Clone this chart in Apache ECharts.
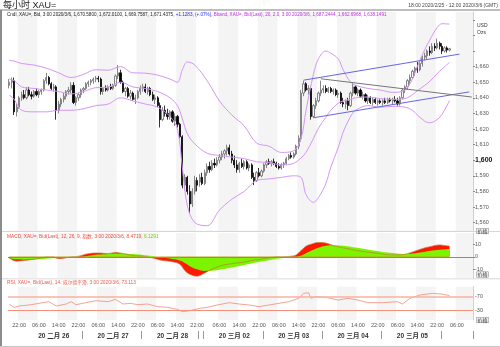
<!DOCTYPE html>
<html><head><meta charset="utf-8">
<script src="https://cdn.jsdelivr.net/npm/echarts@6/dist/echarts.min.js"></script>
<style>html,body{margin:0;padding:0;background:#fff}#c{width:500px;height:347px}</style>
</head><body><div id="c"></div>
<script>
// ---------- categories (hourly bars, GMT) ----------
const sessions = [["2020/2/25",18,23],["2020/2/26",0,23],["2020/2/27",0,23],["2020/2/28",0,22],["2020/3/1",22,23],["2020/3/2",0,23],["2020/3/3",0,23],["2020/3/4",0,23],["2020/3/5",0,23],["2020/3/6",0,12]];
const categories = [];
sessions.forEach(([d,a,b]) => { for (let h=a; h<=b; h++) categories.push(d + ' ' + (h<10?'0':'') + h + ':00'); });

// ---------- candles [open, close, low, high] ----------
const candles = [
[1648,1650,1646,1652],[1650,1651,1646,1653],[1651,1631,1629,1653],[1631,1634,1628,1636],[1634,1640,1633,1641],
[1640,1642,1638,1644],[1642,1640,1639,1645],[1640,1645,1639,1647],[1645,1642,1641,1647],[1642,1641,1639,1644],
[1641,1644,1640,1645],[1644,1642,1641,1646],[1642,1644,1640,1645],[1644,1645,1642,1646],[1645,1651,1644,1652],
[1651,1653,1649,1656],[1653,1649,1648,1654],[1649,1646,1645,1650],[1646,1647,1644,1649],[1647,1632,1626,1648],
[1632,1636,1630,1638],[1636,1639,1634,1640],[1639,1641,1637,1643],[1641,1644,1639,1645],[1644,1645,1642,1647],
[1645,1648,1643,1650],[1648,1637,1636,1650],[1637,1640,1635,1641],[1640,1642,1638,1643],[1642,1645,1640,1646],
[1645,1646,1643,1647],[1646,1649,1645,1650],[1649,1650,1647,1651],[1650,1651,1648,1652],[1651,1652,1649,1653],
[1652,1652.5,1650,1654],[1652.5,1652,1650,1654],[1652,1644,1642,1653],[1644,1646,1642,1647],[1646,1645,1644,1648],
[1645,1647,1644,1648],[1647,1646,1645,1649],[1646,1648,1645,1649],[1648,1654,1647,1655],[1654,1656,1652,1661],
[1656,1650,1649,1658],[1650,1644,1643,1651],[1644,1646,1641,1647],[1646,1641,1640,1647],[1641,1643,1639,1645],
[1643,1639,1638,1644],[1639,1640,1636,1642],[1640,1644,1639,1645],[1644,1646,1642,1648],[1646,1647,1644,1649],
[1647,1644,1643,1649],[1644,1646,1642,1647],[1646,1642,1641,1647],[1642,1639,1638,1644],[1639,1640,1636,1642],
[1640,1635,1634,1641],[1635,1626,1621,1637],[1626,1632,1625,1634],[1632,1630,1628,1635],[1630,1628,1626,1633],
[1628,1631,1626,1632],[1631,1625,1624,1632],[1625,1628,1622,1630],[1628,1623,1621,1629],[1623,1615,1614,1624],
[1615,1584,1582,1616],[1584,1589,1581,1591],[1589,1580,1578,1590],[1580,1572,1566,1584],[1572,1580,1570,1582],
[1580,1587,1578,1590],[1587,1584,1580,1589],[1586,1589,1583,1591],[1589,1585,1584,1592],[1585,1592,1584,1594],
[1592,1596,1590,1598],[1596,1594,1592,1599],[1594,1598,1593,1600],[1598,1597,1595,1601],[1597,1600,1596,1602],
[1600,1602,1598,1604],[1602,1604,1600,1606],[1604,1606,1601,1607],[1606,1608,1603,1610],[1608,1604,1603,1610],
[1604,1600,1598,1606],[1600,1597,1595,1603],[1597,1594,1592,1600],[1594,1598,1592,1599],[1598,1596,1595,1601],
[1596,1599,1594,1600],[1599,1595,1594,1600],[1595,1597,1593,1598],[1597,1589,1588,1598],[1589,1587,1584,1592],
[1587,1592,1586,1593],[1592,1590,1589,1595],[1590,1593,1589,1594],[1593,1597,1592,1598],[1597,1599,1595,1600],
[1599,1598,1597,1601],[1598,1599,1596,1600],[1599,1598,1597,1601],[1598,1596,1595,1599],[1596,1595,1594,1598],
[1595,1597,1594,1598],[1597,1598,1595,1599],[1598,1601,1597,1602],[1601,1603,1600,1604],[1603,1602,1601,1605],
[1602,1604,1601,1605],[1604,1609,1603,1610],[1609,1614,1607,1616],[1614,1643,1612,1645],[1643,1649,1641,1651],
[1649,1645,1644,1650],[1645,1646,1642,1648],[1646,1628,1626,1647],[1628,1635,1627,1636],[1635,1638,1633,1640],
[1638,1643,1637,1644],[1643,1645,1641,1651],[1645,1646,1643,1648],[1646,1644,1643,1648],[1644,1646,1643,1647],
[1646,1644,1643,1647],[1644,1645,1642,1646],[1645,1642,1641,1646],[1642,1643,1640,1645],[1643,1637,1636,1644],
[1637,1636,1634,1640],[1636,1638,1633,1639],[1638,1635,1632,1640],[1635,1643,1634,1644],[1643,1647,1641,1650],
[1647,1643,1642,1648],[1643,1645,1641,1646],[1645,1641,1640,1646],[1641,1642,1639,1644],[1642,1638,1637,1643],
[1638,1640,1636,1642],[1640,1637,1636,1641],[1637,1639,1635,1640],[1639,1637,1636,1640],[1637,1638,1635,1639],
[1638,1637,1636,1639],[1637,1638,1635,1639],[1638,1637,1636,1640],[1637,1639,1636,1640],[1639,1638,1637,1640],
[1638,1639,1636,1640],[1639,1638,1637,1641],[1638,1636,1635,1640],[1636,1640,1635,1641],[1640,1645,1639,1646],
[1645,1647,1643,1648],[1647,1651,1645,1652],[1651,1653,1649,1655],[1653,1657,1652,1658],[1657,1659,1654,1660],
[1659,1658,1656,1663],[1658,1662,1657,1664],[1662,1666,1660,1667],[1666,1667,1664,1669],[1667,1670,1665,1671],
[1670,1669,1667,1673],[1669,1673,1668,1675],[1673,1672,1670,1675],[1672,1675,1671,1678],[1675,1673,1671,1676],
[1673,1670,1668,1675],[1670,1672,1669,1673],[1672,1670.58,1669,1673],[1670.58,1671.4375,1669.7587,1672.01]
];

// ---------- Bollinger bands (read at these bar indexes) ----------
const bbIndex  = [0,2,5,10,15,20,25,30,35,40,45,50,55,60,65,68,70,72,75,80,85,90,95,100,105,110,115,118,120,123,125,128,130,133,135,138,140,145,150,155,160,163,165,168,170,173,175,178];
const bbUpper  = [1664,1663.5,1662,1661,1659,1656,1653,1655,1658,1657.7,1660,1656,1655.8,1654.5,1652,1650,1658,1663,1661,1651,1638,1629,1622,1611,1609,1605,1606,1614,1632,1655,1665,1670,1668.6,1665,1658,1650,1648,1646,1645,1643.5,1645,1652,1660,1671,1677,1685,1687.5,1687.2444];
const bbMiddle = [1652,1651,1647,1646,1645,1644,1642.5,1644,1646.5,1646.8,1650,1647,1646,1644,1640,1635,1626.5,1617,1610.5,1604.5,1603,1602,1601,1599,1598.5,1597,1598,1601.5,1605,1614,1620.5,1627.5,1632,1636.5,1638,1639,1640,1640.5,1639.5,1639,1639.5,1642,1644.5,1648,1650.5,1655.5,1658.5,1662.6968];
const bbLower  = [1641.7,1639,1632,1631,1631,1632,1632,1633,1635,1636,1640,1638,1636,1634,1628,1620,1595,1571,1560,1558,1568,1575,1580,1587,1588,1589,1590,1589,1578,1573,1576,1585,1595.5,1608,1618,1628,1632,1635,1634,1634.5,1634,1632,1629,1625,1624,1626,1629.5,1638.1491];

// ---------- hand-drawn trend lines [bar index, price] ----------
const channelUpper = [[119,1651.3],[182,1668.0]];
const channelLower = [[123,1627.2],[186,1643.8]];
const grayTrend    = [[126,1652.2],[187,1640.5]];

// ---------- MACD (12,26,9) ----------
const macdIndex  = [0,3,6,10,14,17,20,24,28,32,36,40,43,46,50,54,58,62,66,69,71,73,76,79,82,86,90,94,98,102,106,110,114,116,118,120,122,125,128,131,134,138,142,146,150,154,158,161,164,167,170,174,176,178];
const macdValues = [-1,-3.5,-3,-2,-0.5,0,-1.5,-0.5,0.5,2.5,3,2.5,3.5,2.5,1,0.5,-1,-3,-4,-6,-11,-14,-15.5,-13,-10,-7,-5.5,-4.5,-3,-2,-0.5,0,0.5,1.5,5,8.5,10,11.5,11,9,7.5,6,4.5,3.5,2.5,1.5,1.5,2.5,4.5,6.5,8,9.5,9,8.4719];
const signalValues = [-1.5,-2,-2.3,-2.2,-1.8,-1.2,-1,-0.8,-0.3,0.8,1.8,2.3,2.6,2.7,2.2,1.5,0.6,-0.6,-1.8,-3,-5,-7.5,-10,-11.3,-11.2,-10,-8.5,-7,-5.3,-3.8,-2.3,-1.2,-0.4,0,1,2.8,4.8,7.2,8.8,9.3,9,8,6.8,5.5,4.3,3.2,2.4,2.2,2.8,3.7,4.7,5.7,5.9,6.1291];

// ---------- RSI (14) ----------
const rsiIndex  = [0,2,4,8,12,16,19,23,25,27,31,35,40,43,46,49,52,56,60,64,68,70,73,77,80,84,89,93,97,101,105,109,113,117,119,121,122,124,128,133,137,141,145,151,157,159,162,166,171,175,178];
const rsiValues = [47,38,42,45,50,55,42,48,55,46,52,58,55,62,48,50,46,48,40,38,32,25,28,35,38,45,52,48,45,40,45,50,55,65,80,82,65,70,68,60,65,60,52,52,55,48,65,75,80,78,73.113];

// ---------- helpers ----------
const FONT = "'Liberation Sans','Noto Sans CJK SC',sans-serif";
const pairs = (idx, vals) => idx.map((k, j) => [k, vals[j]]);
const hourOf = v => parseInt(v.split(' ')[1], 10);
const timeTick = (i, v) => { const h = hourOf(v); return (h === 6 || h === 14 || h === 22) && v !== '2020/3/1 22:00'; };
const dayMid = (i, v) => hourOf(v) === 12 && v.indexOf('2020/3/6') !== 0;
const dayStart = (i, v) => (hourOf(v) === 0 && i > 6) || v === '2020/3/1 22:00';
const monthCN = {'2': '二月', '3': '三月'};
const dateLabel = v => { const p = v.split(' ')[0].split('/'); return '20 ' + monthCN[p[1]] + ' ' + (p[2].length < 2 ? '0' : '') + p[2]; };
const thousands = v => { const s = v.toFixed(0); return s.length > 3 ? s.slice(0, s.length - 3) + ',' + s.slice(-3) : s; };
const money2 = v => { const s = v.toFixed(2); const [a, b] = s.split('.'); return thousands(+a) + '.' + b; };
function tag(val, text, bg, fg, size, extra) {
  return {
    yAxis: val, symbol: 'none', lineStyle: {opacity: 0, width: 0},
    label: Object.assign({show: true, position: 'end', distance: 0, formatter: text, backgroundColor: bg, color: fg,
      fontSize: size, fontFamily: FONT, padding: [1, 2, 0, 2], width: 23, lineHeight: size + 1}, extra || {})
  };
}
const bandArea = {show: true, interval: timeTick, areaStyle: {color: ['#ffffff', '#f4f4f4']}};
const xBase = (g) => ({type: 'category', gridIndex: g, data: categories, boundaryGap: true,
  axisLine: {show: false}, axisTick: {show: false}, axisLabel: {show: false}, splitLine: {show: false}, splitArea: bandArea});

const chart = echarts.init(document.getElementById('c'));
const option = {
  animation: false,
  textStyle: {fontFamily: FONT},
  title: [
    {left: 3, top: 0, padding: [1, 0, 0, 0], text: '每小时 XAU=', textStyle: {fontSize: 9, fontWeight: 'normal', color: '#222', fontFamily: FONT}},
    {right: 2, top: 3, padding: 0, text: '18:00 2020/2/25 - 12:00 2020/3/6 (GMT)', textStyle: {fontSize: 5, fontWeight: 'normal', color: '#444', fontFamily: FONT}},
    {left: 5, top: 10, padding: [2, 2],
     text: '{k|Cndl, XAU=, Bid, 3:00 2020/3/6, 1,670.5800, 1,672.0100, 1,669.7587, 1,671.4375, }{b|+1.1283, (+.07%), }{m|Bband, XAU=, Bid(Last), 20, 2.0, 3:00 2020/3/6, 1,687.2444, 1,662.6968, 1,638.1491}',
     textStyle: {fontSize: 4.6, fontWeight: 'normal', fontFamily: FONT,
       rich: {k: {color: '#222', fontSize: 4.6, fontFamily: FONT}, b: {color: '#2a2aff', fontSize: 4.6, fontFamily: FONT}, m: {color: '#c030e0', fontSize: 4.6, fontFamily: FONT}}}},
    {left: 5, top: 232, padding: [2, 2],
     text: '{r|MACD, XAU=, Bid(Last), 12, 26, 9, 指数, 3:00 2020/3/6, 8.4719, }{g|6.1291}',
     textStyle: {fontSize: 4.8, fontWeight: 'normal', fontFamily: FONT,
       rich: {r: {color: '#ee4a3a', fontSize: 4.8, fontFamily: FONT}, g: {color: '#70d000', fontSize: 4.8, fontFamily: FONT}}}},
    {left: 5, top: 278, padding: [2, 2], text: 'RSI, XAU=, Bid(Last), 14, 威尔德平滑, 3:00 2020/3/6, 73.113',
     textStyle: {fontSize: 4.8, fontWeight: 'normal', color: '#ee5a48', fontFamily: FONT}}
  ],
  grid: [
    {left: 8, width: 465, top: 12, height: 218.4},
    {left: 8, width: 465, top: 233, height: 45},
    {left: 8, width: 465, top: 286.7, height: 33.3}
  ],
  xAxis: [
    xBase(0), xBase(1),
    Object.assign(xBase(2), {axisLabel: {show: true, interval: timeTick, formatter: v => v.split(' ')[1], fontSize: 5.5, color: '#555', margin: 3}}),
    {type: 'category', gridIndex: 2, data: categories, boundaryGap: true, position: 'bottom', offset: 11,
     axisLine: {show: false}, splitLine: {show: false}, splitArea: {show: false},
     axisTick: {show: true, interval: dayStart, length: 8, lineStyle: {color: '#999', width: 1}},
     axisLabel: {show: true, interval: dayMid, formatter: dateLabel, fontSize: 6.5, fontWeight: 'bold', color: '#333', margin: 2}}
  ],
  yAxis: [
    {type: 'value', gridIndex: 0, position: 'right', min: 1555, max: 1695, splitNumber: 14,
     axisLine: {show: true, lineStyle: {color: '#d0d0d0'}}, axisTick: {show: true, length: 2, lineStyle: {color: '#888'}},
     splitLine: {lineStyle: {color: '#ececec', width: 0.6}},
     axisLabel: {showMinLabel: false, showMaxLabel: false, margin: 2, fontSize: 5.5, color: '#555',
       formatter: v => v > 1665 ? '' : (v === 1600 ? '{b|1,600}' : thousands(v)),
       rich: {b: {fontSize: 7, fontWeight: 'bold', color: '#111'}}}},
    {type: 'value', gridIndex: 1, position: 'right', min: -17, max: 19, splitNumber: 4,
     axisLine: {show: true, lineStyle: {color: '#d0d0d0'}}, axisTick: {show: true, length: 2, lineStyle: {color: '#888'}},
     splitLine: {lineStyle: {color: '#ececec', width: 0.6}},
     axisLabel: {showMinLabel: false, showMaxLabel: false, margin: 2, fontSize: 5.5, color: '#555'}},
    {type: 'value', gridIndex: 2, position: 'right', min: 0, max: 100, interval: 10,
     axisLine: {show: true, lineStyle: {color: '#d0d0d0'}}, axisTick: {show: false},
     splitLine: {show: false},
     axisLabel: {margin: 2, fontSize: 5.5, color: '#555', formatter: v => (v === 30 || v === 70) ? '-' + v : ''}}
  ],
  series: [
    {type: 'candlestick', name: 'Cndl', xAxisIndex: 0, yAxisIndex: 0, data: candles, barWidth: 1.7,
     itemStyle: {color: '#f6f6f6', color0: '#000000', borderColor: '#6a6a6a', borderColor0: '#000000', borderWidth: 0.8},
     markLine: {silent: true, symbol: ['none', 'none'], data: [tag(1671.4375, '1,671.43', '#000', '#fff', 6.5, {fontWeight: 'bold', width: 25})]}},
    {type: 'line', name: 'BB up', xAxisIndex: 0, yAxisIndex: 0, data: pairs(bbIndex, bbUpper), showSymbol: false, smooth: 0.35,
     lineStyle: {color: '#d595f4', width: 1},
     markLine: {silent: true, symbol: ['none', 'none'], data: [tag(bbUpper[bbUpper.length - 1], money2(bbUpper[bbUpper.length - 1]), '#b83ee2', '#fff', 5)]}},
    {type: 'line', name: 'BB mid', xAxisIndex: 0, yAxisIndex: 0, data: pairs(bbIndex, bbMiddle), showSymbol: false, smooth: 0.35,
     lineStyle: {color: '#d595f4', width: 1},
     markLine: {silent: true, symbol: ['none', 'none'], data: [tag(bbMiddle[bbMiddle.length - 1], money2(bbMiddle[bbMiddle.length - 1]), '#b83ee2', '#fff', 5)]}},
    {type: 'line', name: 'BB low', xAxisIndex: 0, yAxisIndex: 0, data: pairs(bbIndex, bbLower), showSymbol: false, smooth: 0.35,
     lineStyle: {color: '#d595f4', width: 1},
     markLine: {silent: true, symbol: ['none', 'none'], data: [tag(bbLower[bbLower.length - 1], money2(bbLower[bbLower.length - 1]), '#b83ee2', '#fff', 5)]}},
    {type: 'line', xAxisIndex: 0, yAxisIndex: 0, data: channelUpper, showSymbol: false, lineStyle: {color: '#6666e6', width: 1}},
    {type: 'line', xAxisIndex: 0, yAxisIndex: 0, data: channelLower, showSymbol: false, lineStyle: {color: '#6666e6', width: 1}},
    {type: 'line', xAxisIndex: 0, yAxisIndex: 0, data: grayTrend, showSymbol: false, lineStyle: {color: '#777777', width: 1}},
    {type: 'line', name: 'MACD', xAxisIndex: 1, yAxisIndex: 1, data: pairs(macdIndex, macdValues), showSymbol: false, smooth: 0.4,
     lineStyle: {width: 0}, areaStyle: {color: '#ff1800', opacity: 1}},
    {type: 'line', name: 'Signal', xAxisIndex: 1, yAxisIndex: 1, data: pairs(macdIndex, signalValues), showSymbol: false, smooth: 0.4,
     lineStyle: {width: 0}, areaStyle: {color: '#7cf400', opacity: 1}},
    {type: 'line', xAxisIndex: 1, yAxisIndex: 1, data: pairs(macdIndex, macdValues), showSymbol: false, smooth: 0.4,
     lineStyle: {color: '#c47838', width: 0.7},
     markLine: {silent: true, symbol: ['none', 'none'], data: [
       {yAxis: 0, lineStyle: {color: '#c8783a', width: 1, type: 'solid'}, label: {show: false}},
       tag(8.4719, '8.4719', '#ff1a1a', '#222', 5),
       tag(6.1291, '6.1291', '#80f000', '#222', 5, {offset: [0, 3]})
     ]}},
    {type: 'line', name: 'RSI', xAxisIndex: 2, yAxisIndex: 2, data: pairs(rsiIndex, rsiValues), showSymbol: false,
     lineStyle: {color: '#f28a78', width: 0.8},
     markLine: {silent: true, symbol: ['none', 'none'], data: [
       {yAxis: 70, lineStyle: {color: '#f8b0a0', width: 1.6, type: 'solid'}, label: {show: false}},
       {yAxis: 30, lineStyle: {color: '#f3907a', width: 1.1, type: 'solid'}, label: {show: false}},
       tag(73.113, '73.113', '#ff1a1a', '#222', 5)
     ]}}
  ],
  graphic: [
    {type: 'line', shape: {x1: 0, y1: 10, x2: 500, y2: 10}, style: {stroke: '#a8a8a8', lineWidth: 1.5}, silent: true},
    {type: 'line', shape: {x1: 1, y1: 10, x2: 1, y2: 347}, style: {stroke: '#8c8c8c', lineWidth: 2}, silent: true},
    {type: 'line', shape: {x1: 0, y1: 346.5, x2: 500, y2: 346.5}, style: {stroke: '#c8c8c8', lineWidth: 1}, silent: true},
    {type: 'line', shape: {x1: 2, y1: 231.5, x2: 500, y2: 231.5}, style: {stroke: '#d6d6d6', lineWidth: 1}, silent: true},
    {type: 'line', shape: {x1: 2, y1: 278.8, x2: 500, y2: 278.8}, style: {stroke: '#d6d6d6', lineWidth: 1}, silent: true},
    {type: 'text', left: 477, top: 23, style: {text: 'USD', font: "5px 'Liberation Sans'", fill: '#333'}},
    {type: 'text', left: 477, top: 30, style: {text: 'Ozs', font: "5px 'Liberation Sans'", fill: '#333'}},
    {type: 'text', left: 476, top: 228, style: {text: '价格', font: "5px 'Noto Sans CJK SC'", fill: '#333', backgroundColor: '#eee', borderColor: '#888', borderWidth: 0.5, padding: [0, 1]}},
    {type: 'text', left: 476, top: 271.5, style: {text: '价格', font: "5px 'Noto Sans CJK SC'", fill: '#333', backgroundColor: '#eee', borderColor: '#888', borderWidth: 0.5, padding: [0, 1]}},
    {type: 'text', left: 476, top: 317, style: {text: '价格', font: "5px 'Noto Sans CJK SC'", fill: '#333', backgroundColor: '#eee', borderColor: '#888', borderWidth: 0.5, padding: [0, 1]}}
  ]
};
chart.setOption(option);
</script>
</body></html>
